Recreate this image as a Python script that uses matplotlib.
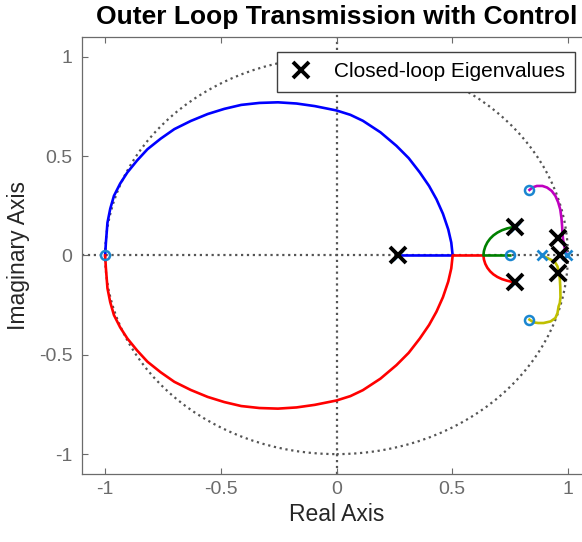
import matplotlib
matplotlib.use("Agg")
import matplotlib.pyplot as plt
from matplotlib.patches import Circle

# root locus branches
# upper arc: from the zero at -1 round to the breakaway point at 0.5, then back to 0.27
blue_x = [-1.0, -0.997, -0.99, -0.978, -0.962, -0.935, -0.904, -0.862, -0.817, -0.76,
          -0.701, -0.63, -0.557, -0.485, -0.412, -0.333, -0.253, -0.173, -0.094, 0.0,
          0.06, 0.114, 0.19, 0.259, 0.312, 0.36, 0.4, 0.432, 0.46, 0.483, 0.496, 0.502,
          0.266]
blue_y = [0.0, 0.06, 0.165, 0.235, 0.3, 0.362, 0.418, 0.478, 0.535, 0.588,
          0.636, 0.677, 0.712, 0.738, 0.758, 0.768, 0.771, 0.765, 0.752, 0.73,
          0.708, 0.678, 0.62, 0.552, 0.49, 0.418, 0.35, 0.283, 0.21, 0.131, 0.065, 0.0,
          0.0]

# lower arc, then out along the real axis and down to the lower eigenvalue
red_x = [-1.0, -0.997, -0.99, -0.978, -0.962, -0.935, -0.904, -0.862, -0.817, -0.76,
         -0.701, -0.63, -0.557, -0.485, -0.412, -0.333, -0.253, -0.173, -0.094, 0.0,
         0.06, 0.114, 0.19, 0.259, 0.312, 0.36, 0.4, 0.432, 0.46, 0.483, 0.496, 0.502,
         0.635, 0.637, 0.643, 0.652, 0.664, 0.678, 0.695, 0.715, 0.737, 0.756, 0.772]
red_y = [0.0, -0.06, -0.165, -0.235, -0.3, -0.362, -0.418, -0.478, -0.535, -0.588,
         -0.636, -0.677, -0.712, -0.738, -0.758, -0.768, -0.771, -0.765, -0.752, -0.73,
         -0.708, -0.678, -0.62, -0.552, -0.49, -0.418, -0.35, -0.283, -0.21, -0.131, -0.065, 0.0,
         0.0, -0.02, -0.042, -0.062, -0.08, -0.095, -0.108, -0.119, -0.127, -0.132, -0.136]

green_x = [0.751, 0.635, 0.637, 0.643, 0.652, 0.664, 0.678, 0.695, 0.715, 0.737, 0.756, 0.772]
green_y = [0.0, 0.0, 0.022, 0.045, 0.066, 0.085, 0.101, 0.115, 0.127, 0.136, 0.141, 0.145]

magenta_x = [0.834, 0.848, 0.866, 0.89, 0.91, 0.93, 0.946, 0.958, 0.967, 0.972, 0.975,
             0.977, 0.979, 0.984, 0.989, 0.997]
magenta_y = [0.33, 0.343, 0.35, 0.35, 0.342, 0.325, 0.3, 0.268, 0.232, 0.19, 0.148,
             0.11, 0.081, 0.05, 0.022, 0.0]

yellow_x = [0.888, 0.91, 0.93, 0.946, 0.955, 0.96, 0.965, 0.967, 0.968, 0.965, 0.96,
            0.955, 0.946, 0.925, 0.895, 0.872, 0.852, 0.834]
yellow_y = [0.0, -0.012, -0.024, -0.037, -0.055, -0.079, -0.115, -0.155, -0.21, -0.24,
            -0.256, -0.29, -0.315, -0.332, -0.34, -0.34, -0.337, -0.323]

# open-loop poles and zeros
pole_x = [0.266, 0.772, 0.772, 0.888, 0.997]
pole_y = [0.0, 0.145, -0.136, 0.0, 0.0]
zero_x = [-1.0, 0.751, 0.834, 0.834]
zero_y = [0.0, 0.0, 0.33, -0.323]

# closed-loop eigenvalues
eig_x = [0.266, 0.772, 0.772, 0.956, 0.965, 0.956]
eig_y = [0.0, 0.145, -0.136, 0.088, 0.0, -0.088]

ticks = [-1, -0.5, 0, 0.5, 1]
tick_labels = ["-1", "-0.5", "0", "0.5", "1"]

plt.rcParams['font.family'] = ['Liberation Sans', 'DejaVu Sans']

fig = plt.figure(figsize=(5.82, 5.42), dpi=100)
ax = fig.add_axes([0.1409, 0.1255, 0.8746, 0.8063])

grid_col = '#555555'
# unit circle and the two axis lines
ax.add_patch(Circle((0, 0), 1, fill=False, ls=':', lw=1.6, color=grid_col, zorder=1))
ax.axhline(0, ls=':', lw=1.6, color=grid_col, zorder=1)
ax.axvline(0, ls=':', lw=1.6, color=grid_col, zorder=1)

lw = 1.9
ax.plot(blue_x, blue_y, color='#0000ff', lw=lw, zorder=2)
ax.plot(red_x, red_y, color='#ff0000', lw=lw, zorder=2)
ax.plot(green_x, green_y, color='#008000', lw=lw, zorder=2)
ax.plot(magenta_x, magenta_y, color='#bf00bf', lw=lw, zorder=2)
ax.plot(yellow_x, yellow_y, color='#bfbf00', lw=lw, zorder=2)

mcol = '#1a86d0'
ax.plot(pole_x, pole_y, ls='none', marker='x', ms=7, mew=2, color=mcol, zorder=3)
ax.plot(zero_x, zero_y, ls='none', marker='o', ms=6.5, mew=1.8, mfc='none', mec=mcol, zorder=3)
ax.plot(eig_x, eig_y, ls='none', marker='x', ms=11, mew=2.8, color='black', zorder=4,
        label='Closed-loop Eigenvalues')

ax.set_xlim(-1.1, 1.1)
ax.set_ylim(-1.1, 1.1)
ax.set_xticks(ticks)
ax.set_xticklabels(tick_labels)
ax.set_yticks(ticks)
ax.set_yticklabels(tick_labels)
ax.tick_params(direction='in', length=4, width=0.8, color='#6b6b6b', labelcolor='#6b6b6b',
               labelsize=14, top=True, right=True)
ax.tick_params(axis='x', pad=5)
ax.tick_params(axis='y', pad=7)
for sp in ax.spines.values():
    sp.set_color('#6b6b6b')
    sp.set_linewidth(0.9)

ax.set_xlabel('Real Axis', fontsize=16.5, color='#262626', labelpad=4)
ax.set_ylabel('Imaginary Axis', fontsize=16.5, color='#262626', labelpad=6)
ax.set_title('Outer Loop Transmission with Control', fontsize=19, fontweight='bold', pad=9)

leg = ax.legend(loc='upper right', bbox_to_anchor=(0.969, 0.966), borderaxespad=0,
                fontsize=15, fancybox=False, framealpha=1, edgecolor='#404040',
                handlelength=1.35, handletextpad=0.9, borderpad=0.5)
leg.get_frame().set_linewidth(1.0)

fig.savefig('out.png', dpi=100)
